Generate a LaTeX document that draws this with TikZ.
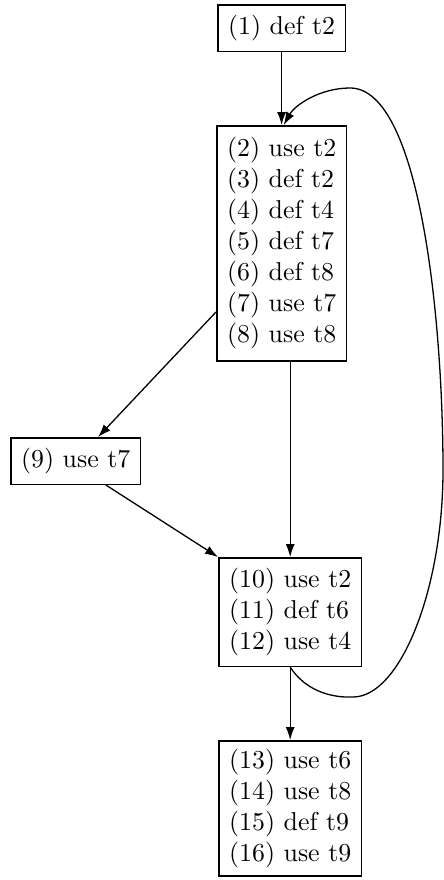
\documentclass[tikz,border=0pt]{standalone}
\usetikzlibrary{arrows.meta,calc}
\begin{document}
\begin{tikzpicture}[x=0.387pt,y=-0.387pt,
  blk/.style={draw,line width=0.6pt,align=left,anchor=north west,inner xsep=4pt,inner ysep=4pt,font=\fontsize{10}{12}\selectfont},
  arr/.style={line width=0.5pt,-{Latex[length=5pt,width=3.5pt]}}]
\useasboundingbox (0,0) rectangle (444,880);
\node[blk] (b1) at (217,4) {(1) def t2};
\node[blk,inner ysep=4.5pt] (b2) at (216,125) {(2) use t2\\(3) def t2\\(4) def t4\\(5) def t7\\(6) def t8\\(7) use t7\\(8) use t8};
\node[blk] (b9) at (10,437) {(9) use t7};
\node[blk] (b10) at (218,557) {(10) use t2\\(11) def t6\\(12) use t4};
\node[blk,inner ysep=3.2pt] (b13) at (218,740) {(13) use t6\\(14) use t8\\(15) def t9\\(16) use t9};
\coordinate (ly) at (0,312);
\draw[arr] (b1.south) -- (b1.south |- b2.north);
\draw[arr] (b2.west |- ly) -- ($(b9.north west)!0.67!(b9.north east)$);
\draw[arr] (b2.south -| b10.north) -- (b10.north);
\draw[arr] ($(b9.south west)!0.73!(b9.south east)$) -- (b10.north west);
\draw[arr] (b10.south) -- (b10.south |- b13.north);
\draw[arr] (b10.south) .. controls (305,690) and (330,698) .. (353,697)
  .. controls (400,697) and (443,590) .. (443,470)
  .. controls (443,320) and (420,88) .. (350,88)
  .. controls (320,88) and (295,105) .. ($(b2.north)+(2,0)$);
\end{tikzpicture}
\end{document}
